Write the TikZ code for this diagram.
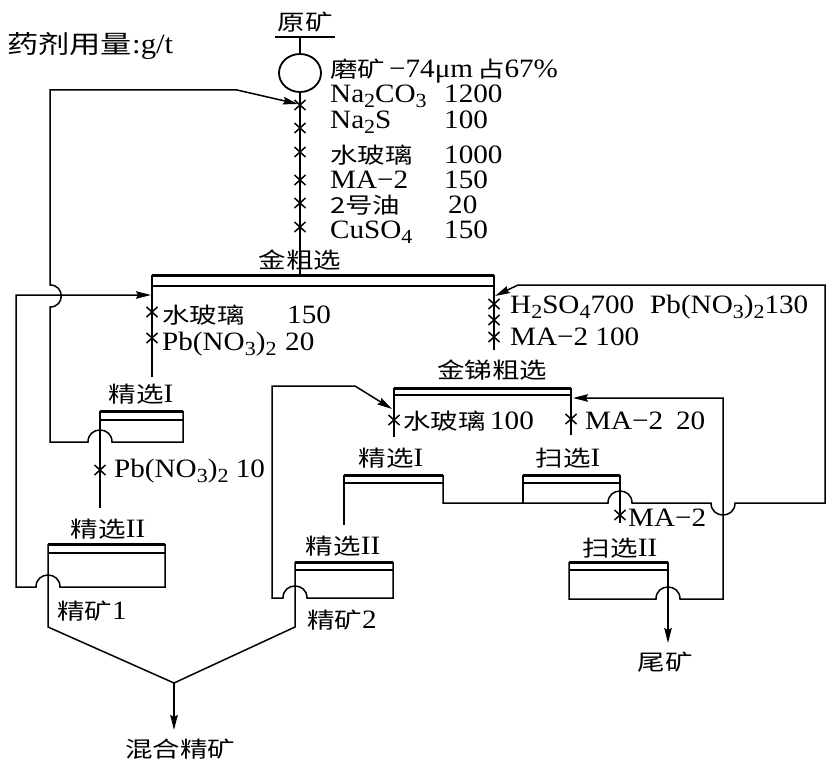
\documentclass[tikz,border=0pt]{standalone}
\usepackage{fontspec}
\setmainfont{Liberation Serif}[FakeStretch=1.1]
\newfontfamily\cjk{Noto Sans CJK SC}[FakeStretch=1.25]
\usetikzlibrary{arrows.meta,calc,shapes.geometric}
% Chinese text and chemical subscripts
\newcommand\zh[1]{{\cjk\fontsize{22}{24}\selectfont #1}}
\newcommand\sbs[1]{\raisebox{-5pt}{\fontsize{20}{20}\selectfont #1}}
\tikzset{
  flow/.style={line width=1.5pt, line join=miter},
  bar/.style={line width=3pt},
  feed/.style={flow, -{Stealth[length=15pt,width=7.5pt,inset=2pt]}},
  lab/.style={inner sep=0pt, anchor=base west, font=\fontsize{26.5}{28}\selectfont},
  ttl/.style={inner sep=0pt, anchor=base, font=\fontsize{26.5}{28}\selectfont},
  xmark/.pic={\draw[line width=1.5pt] (-5.5,-5) -- (5.5,5) (-5.5,5) -- (5.5,-5);},
}
\begin{document}
\begin{tikzpicture}[x=1pt, y=1pt, yscale=-1]
\useasboundingbox[fill=white] (0,0) rectangle (834,762);

% ---------- heading ----------
\node[lab] (dose) at (7,54) {{\cjk\fontsize{25}{27}\selectfont 药剂用量}\fontsize{28}{30}\selectfont :g/t};

% ---------- feed and grinding ----------
\node[ttl] (raw) at (305,31) {\zh{原矿}};
\coordinate (rawbar) at (300,37);
\draw[flow, line width=2pt] (275,37) -- (335,37);
\node[draw, ellipse, line width=1.8pt, minimum width=42pt, minimum height=38pt, inner sep=0pt] (mill) at (300,73) {};
\draw[flow] (rawbar) -- (mill.north);
\coordinate (grfeed) at (300,275);
\draw[flow] (mill.south) -- (grfeed);
\foreach \y in {105,128,152,180,203,227} \pic at (300,\y) {xmark};
\node[lab] (grind) at (330,78) {\zh{磨矿}\hspace{4pt}−74μm\hspace{4pt}\zh{占}67\%};
\node[lab] (r1) at (330,103) {Na\sbs{2}CO\sbs{3}};  \node[lab] (d1) at (444,103) {1200};
\node[lab] (r2) at (330,129) {Na\sbs{2}S};          \node[lab] (d2) at (444,129) {100};
\node[lab] (r3) at (330,164) {\zh{水玻璃}};          \node[lab] (d3) at (444,164) {1000};
\node[lab] (r4) at (330,188) {MA−2};                \node[lab] (d4) at (444,188) {150};
\node[lab] (r5) at (330,213) {\zh{2号油}};           \node[lab] (d5) at (448,213) {20};
\node[lab] (r6) at (330,238) {CuSO\sbs{4}};          \node[lab] (d6) at (444,238) {150};

% ---------- gold rougher ----------
\node[ttl] (grlab) at (300,268) {\zh{金粗选}};
\draw[bar] (152,275) -- (494,275);
\draw[flow] (152,286) -- (494,286);
\draw[flow] (152,275) -- (152,377);
\foreach \y in {312,338} \pic at (152,\y) {xmark};
\node[lab] (gw) at (162,323) {\zh{水玻璃}};  \node[lab] (gwd) at (287,323) {150};
\node[lab] (gp) at (162,350) {Pb(NO\sbs{3})\sbs{2}}; \node[lab] (gpd) at (285,350) {20};
\draw[flow] (494,275) -- (494,350);
\foreach \y in {304,320,337} \pic at (494,\y) {xmark};
\node[lab] (ar1) at (510,313) {H\sbs{2}SO\sbs{4}700\hspace{16pt}Pb(NO\sbs{3})\sbs{2}130};
\node[lab] (ar2) at (510,345) {MA−2 100};

% ---------- gold cleaner I ----------
\node[ttl] (c1a) at (141,402) {\zh{精选}I};
\draw[bar] (100,411) -- (183,411);
\draw[flow] (100,420) -- (183,420);
\draw[flow] (100,411) -- (100,508);
\pic at (100,470) {xmark};
\node[lab] (cp) at (114,477) {Pb(NO\sbs{3})\sbs{2} 10};
% cleaner I tailings back to the rougher feed
\draw[feed] (183,411) -- (183,442) -- (112,442)
  .. controls (112,426) and (88,426) .. (88,442) -- (50,442) -- (50,307)
  .. controls (65,307) and (65,285) .. (50,285) -- (50,90) -- (237,90) -- (298,104);

% ---------- gold cleaner II ----------
\node[ttl] (c2a) at (108,537) {\zh{精选}II};
\draw[bar] (48,544) -- (165,544);
\draw[flow] (48,553) -- (165,553);
\coordinate (mix) at (174,683);
\draw[flow] (48,544) -- (48,627) -- (mix);
\node[lab] (k1) at (57,619) {\zh{精矿}1};
% cleaner II tailings back to cleaner I
\draw[feed] (165,544) -- (165,587) -- (60,587)
  .. controls (60,571) and (36,571) .. (36,587) -- (16,587) -- (16,295) -- (151,295);

% ---------- gold-antimony rougher ----------
\node[ttl] (asr) at (492,378) {\zh{金锑粗选}};
\draw[bar] (394,388) -- (571,388);
\draw[flow] (394,395) -- (571,395);
\draw[flow] (394,388) -- (394,437);
\draw[flow] (571,388) -- (571,435);
\pic at (394,420) {xmark};
\pic at (571,419) {xmark};
\node[lab] (aw) at (403,429) {\zh{水玻璃}\,100};
\node[lab] (am) at (585,429) {MA−2\hspace{13pt}20};

% ---------- cleaner I and scavenger I ----------
\node[ttl] (c1b) at (391,466) {\zh{精选}I};
\draw[bar] (344,475) -- (443,475);
\draw[flow] (344,483) -- (443,483);
\draw[flow] (344,475) -- (344,525);
\node[ttl] (s1) at (568,466) {\zh{扫选}I};
\draw[bar] (523,475) -- (620,475);
\draw[flow] (523,483) -- (620,483);
\draw[flow] (523,475) -- (523,503);
\draw[flow] (620,475) -- (620,523);
\pic at (620,515) {xmark};
\node[lab] (sm) at (628,526) {MA−2};
% middlings back to the gold-antimony rougher feed
\draw[feed] (443,475) -- (443,503) -- (608,503)
  .. controls (608,487) and (632,487) .. (632,503) -- (711,503)
  .. controls (711,519) and (735,519) .. (735,503) -- (825,503) -- (825,285) -- (518,285) -- (495,296);

% ---------- cleaner II (gold-antimony) ----------
\node[ttl] (c2b) at (343,554) {\zh{精选}II};
\draw[bar] (295,562) -- (393,562);
\draw[flow] (295,570) -- (393,570);
\draw[flow] (295,562) -- (295,627) -- (mix);
\node[lab] (k2) at (307,628) {\zh{精矿}2};
\draw[feed] (393,562) -- (393,598) -- (307,598)
  .. controls (307,582) and (283,582) .. (283,598) -- (272,598) -- (272,386) -- (355,386) -- (392,409);

% ---------- scavenger II ----------
\node[ttl] (s2) at (620,556) {\zh{扫选}II};
\draw[bar] (569,562) -- (668,562);
\draw[flow] (569,570) -- (668,570);
\draw[feed] (569,562) -- (569,599) -- (656,599)
  .. controls (656,583) and (680,583) .. (680,599) -- (723,599) -- (723,398) -- (573,398);
\draw[feed] (668,562) -- (668,643);
\node[ttl] (tail) at (665,670) {\zh{尾矿}};

% ---------- mixed concentrate ----------
\draw[feed] (mix) -- (174,730);
\node[ttl] (mixc) at (180,757) {\zh{混合精矿}};
\end{tikzpicture}
\end{document}
